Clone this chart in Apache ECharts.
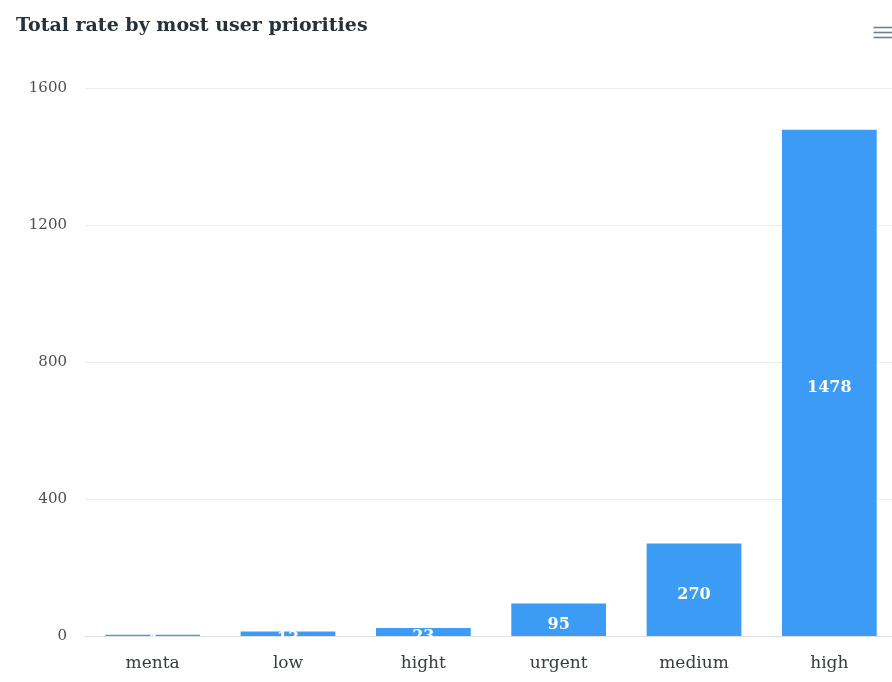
<!DOCTYPE html>
<html>
<head>
<meta charset="utf-8">
<script src="https://cdn.jsdelivr.net/npm/echarts@6/dist/echarts.min.js"></script>
<style>
  html, body { margin: 0; padding: 0; background: #fff; overflow: hidden; }
  #chart { width: 897px; height: 682px; }
</style>
</head>
<body>
<div id="chart"></div>
<script>
const categories = ['menta', 'low', 'hight', 'urgent', 'medium', 'high']
const totals = [4, 13, 23, 95, 270, 1478]
const yTicks = [0, 400, 800, 1200, 1600]

const serif = '"DejaVu Serif", "Liberation Serif", serif'
const chart = echarts.init(document.getElementById('chart'))

// hamburger menu icon, top right
const menuLine = (y) => ({
	type: 'line',
	shape: { x1: 0, y1: y, x2: 22, y2: y },
	style: { stroke: '#6e8192', lineWidth: 1.6 }
})

chart.setOption({
	animation: false,
	title: {
		text: 'Total rate by most user priorities',
		left: 11,
		top: 12,
		textStyle: {
			fontFamily: serif,
			fontSize: 19,
			fontWeight: 'bold',
			color: '#263238'
		}
	},
	graphic: [
		{
			type: 'group',
			left: 871,
			top: 25,
			children: [menuLine(0), menuLine(5), menuLine(10)]
		}
	],
	grid: {
		left: 85,
		right: 0,
		top: 88,
		bottom: 46,
		containLabel: false
	},
	xAxis: {
		type: 'category',
		data: categories,
		axisTick: { show: false },
		axisLine: { lineStyle: { color: '#e0e0e0' } },
		axisLabel: {
			fontFamily: serif,
			fontSize: 17,
			color: '#373d3f',
			margin: 19
		}
	},
	yAxis: {
		type: 'value',
		min: 0,
		max: yTicks[yTicks.length - 1],
		interval: 400,
		axisLabel: {
			fontFamily: serif,
			fontSize: 15,
			color: '#4a4f52',
			margin: 18,
			formatter: function (v) { return String(v) }
		},
		splitLine: { lineStyle: { color: '#ececec' } }
	},
	series: [
		{
			type: 'bar',
			data: totals,
			barWidth: '70%',
			itemStyle: { color: '#3c9bf4' },
			label: {
				show: true,
				position: 'inside',
				offset: [0, 5],
				color: '#fff',
				fontFamily: serif,
				fontWeight: 'bold',
				fontSize: 16
			}
		}
	]
})
</script>
</body>
</html>
